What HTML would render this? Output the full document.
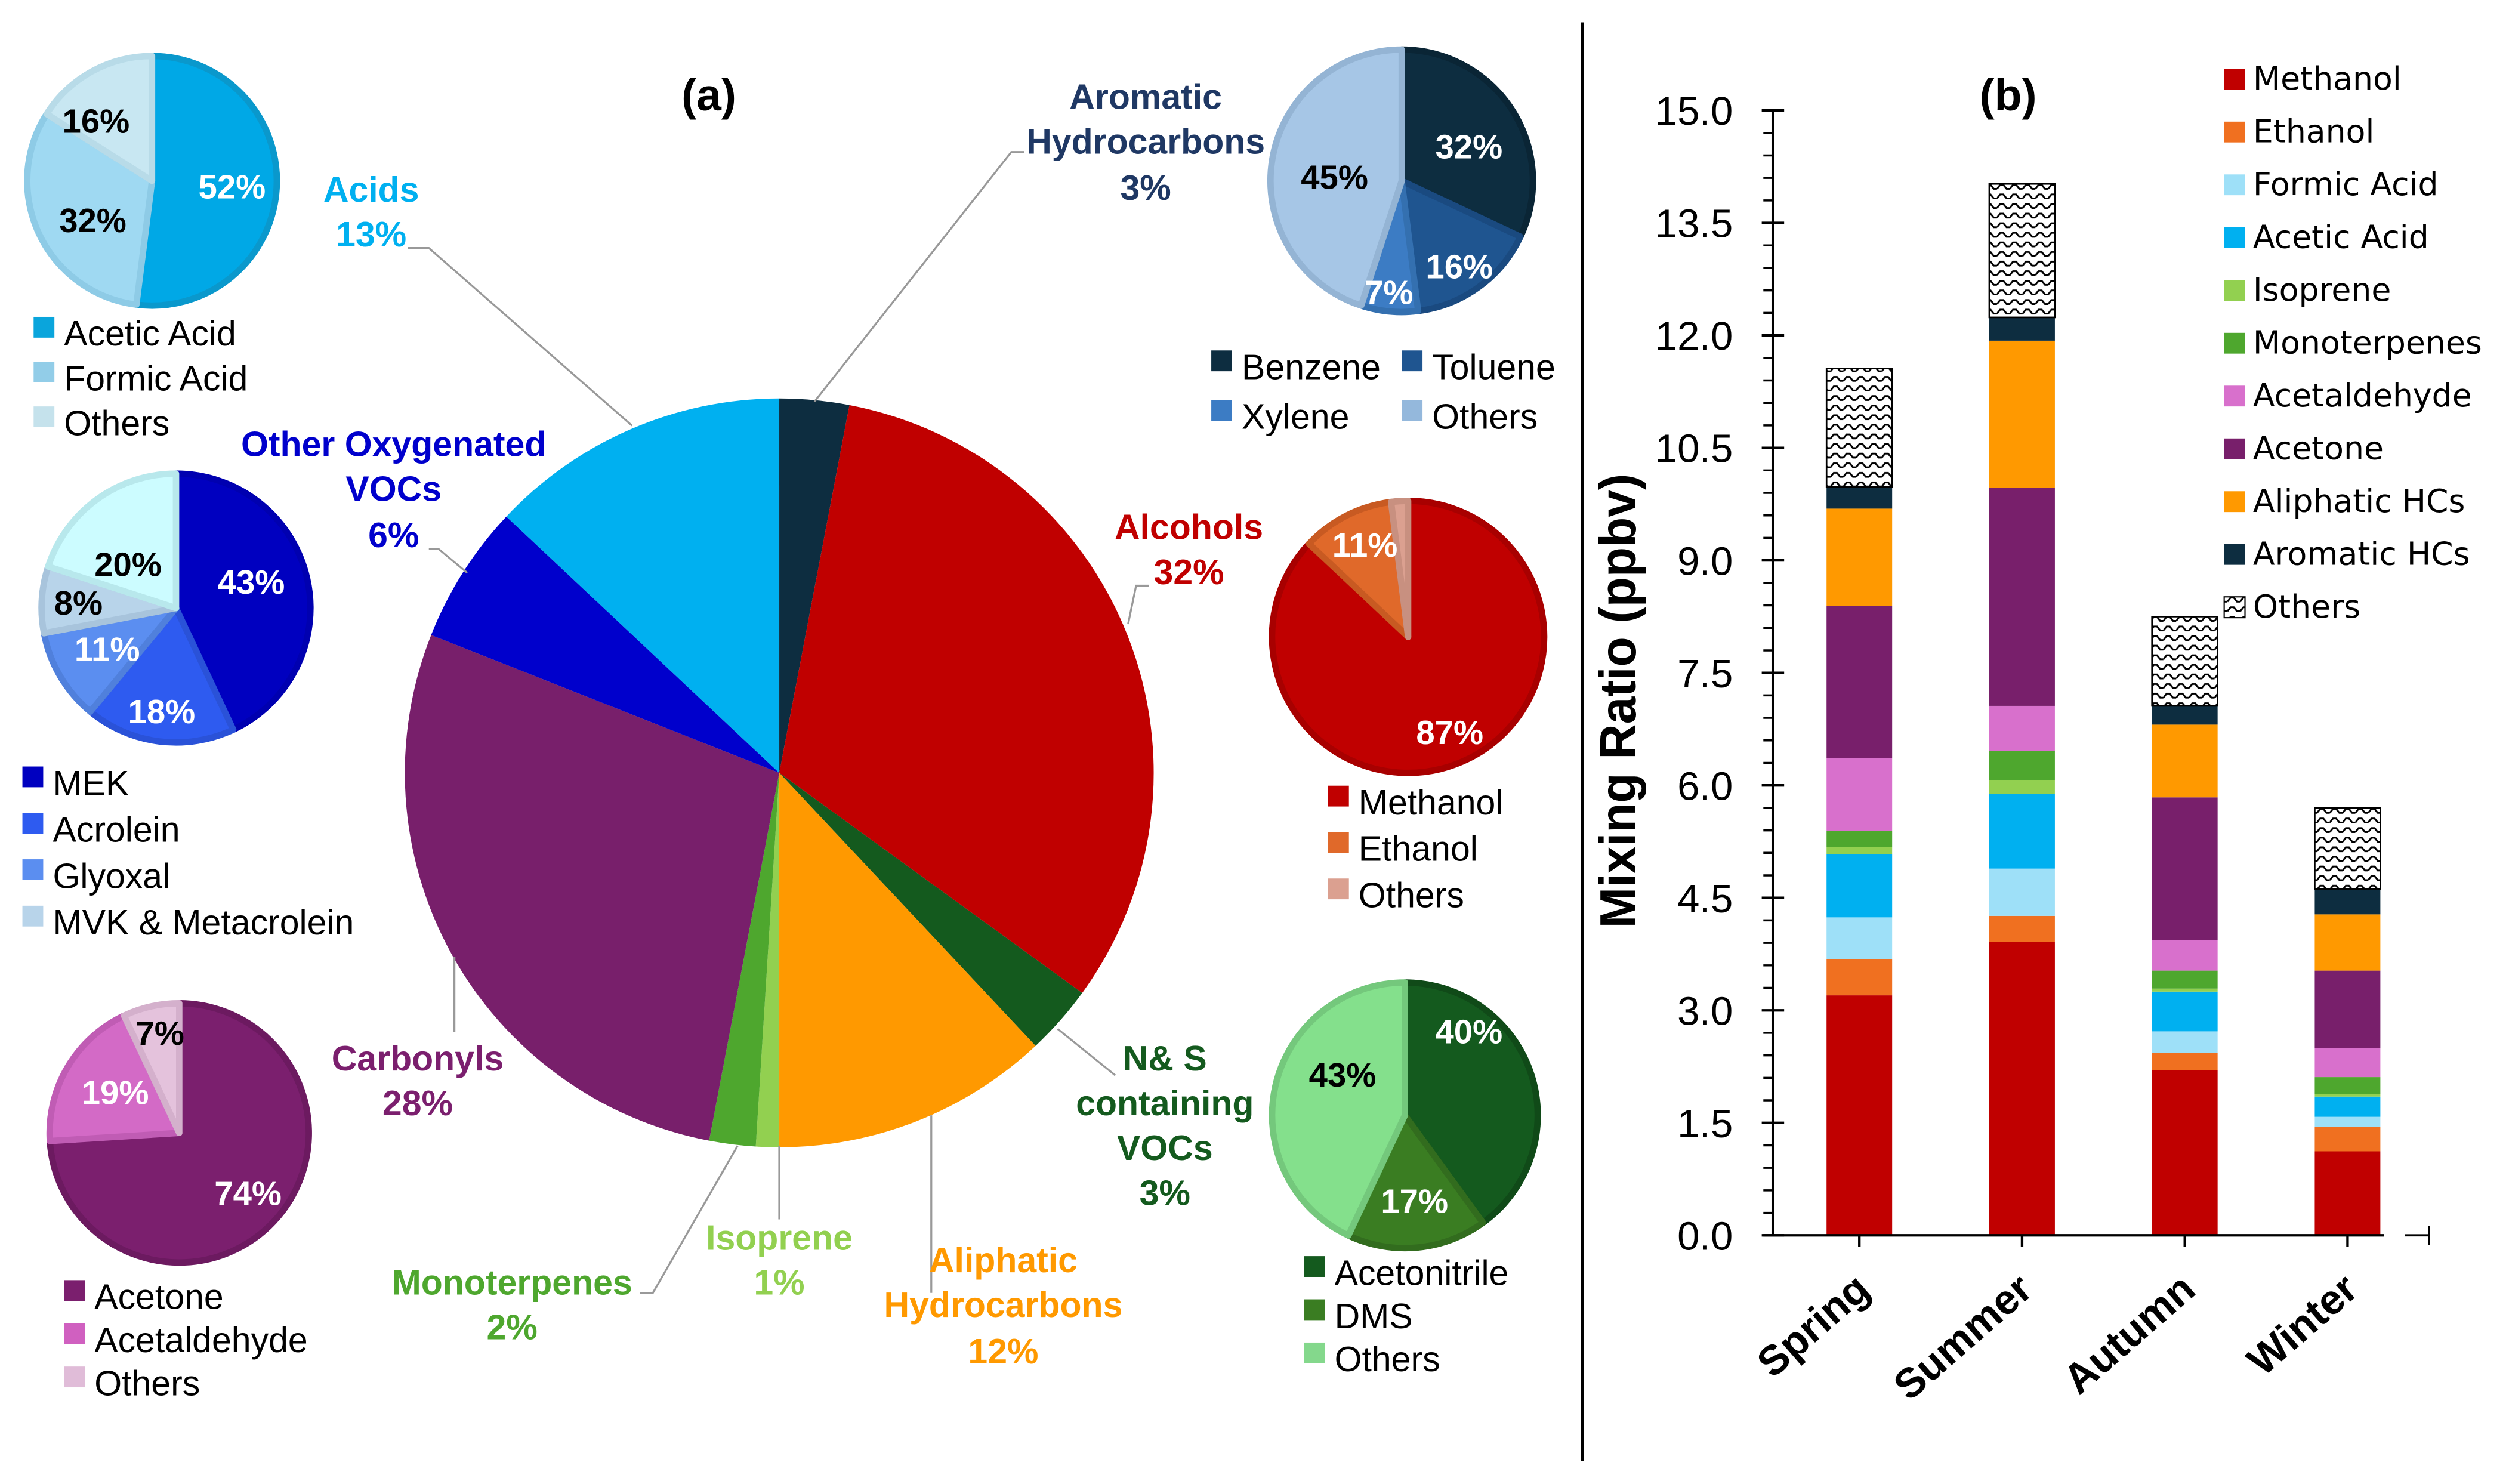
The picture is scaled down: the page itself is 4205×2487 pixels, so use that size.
<!DOCTYPE html>
<html><head><meta charset="utf-8"><style>
html,body{margin:0;padding:0;background:#fff;}
svg{display:block;}
text{font-family:"Liberation Sans",sans-serif;}
.pl{font-weight:bold;font-size:22px;text-anchor:middle;}
.lg{font-size:22px;}
.pct{font-weight:bold;font-size:21px;text-anchor:middle;}
.bl{font-family:"DejaVu Sans",sans-serif;font-size:20px;}
</style></head><body>
<svg id="fig" width="4205" height="2487" viewBox="0 0 1568 927.4" preserveAspectRatio="none" xmlns="http://www.w3.org/2000/svg">
<defs>
<pattern id="wave" patternUnits="userSpaceOnUse" width="8" height="6">
<path d="M0 4 L2 1.5 L4 1.5 L6 4 L8 4" fill="none" stroke="#000" stroke-width="1.1"/>
</pattern>
</defs>
<line x1="989" y1="14" x2="989" y2="913" stroke="#000" stroke-width="2"/>
<text x="443" y="69" font-size="28" font-weight="bold" text-anchor="middle">(a)</text>
<text x="1255" y="69" font-size="28" font-weight="bold" text-anchor="middle">(b)</text>
<g id="pies"></g>
<g id="labels">
<g stroke="#999" stroke-width="1.2" fill="none">
<polyline points="509,251 632,95 640,95"/>
<polyline points="255,155 268,155 395,266"/>
<polyline points="705,390 710,366 718,366"/>
<polyline points="268,343 274,343 292,358"/>
<polyline points="284,645 284,598"/>
<polyline points="661,643 697,672"/>
<polyline points="582,697 582,808"/>
<polyline points="487,716 487,762"/>
<polyline points="461,716 408,808 400,808"/>
</g>
<text class="pl" fill="#1f3864"><tspan x="716" y="68">Aromatic</tspan><tspan x="716" y="96">Hydrocarbons</tspan><tspan x="716" y="125">3%</tspan></text>
<text class="pl" fill="#00b0f0"><tspan x="232" y="126">Acids</tspan><tspan x="232" y="154">13%</tspan></text>
<text class="pl" fill="#c00000"><tspan x="743" y="337">Alcohols</tspan><tspan x="743" y="365">32%</tspan></text>
<text class="pl" fill="#0000cc"><tspan x="246" y="285">Other Oxygenated</tspan><tspan x="246" y="313">VOCs</tspan><tspan x="246" y="342">6%</tspan></text>
<text class="pl" fill="#7b1f6e"><tspan x="261" y="669">Carbonyls</tspan><tspan x="261" y="697">28%</tspan></text>
<text class="pl" fill="#145a1e"><tspan x="728" y="669">N&amp; S</tspan><tspan x="728" y="697">containing</tspan><tspan x="728" y="725">VOCs</tspan><tspan x="728" y="753">3%</tspan></text>
<text class="pl" fill="#ff9900"><tspan x="627" y="795">Aliphatic</tspan><tspan x="627" y="823">Hydrocarbons</tspan><tspan x="627" y="852">12%</tspan></text>
<text class="pl" fill="#92d050"><tspan x="487" y="781">Isoprene</tspan><tspan x="487" y="809">1%</tspan></text>
<text class="pl" fill="#4ea72e"><tspan x="320" y="809">Monoterpenes</tspan><tspan x="320" y="837">2%</tspan></text>
</g>
<g id="bars"></g>
</svg>
<script>
// ---- Main pie data ----
const mainNames = ["Aromatic","Alcohols","N&S VOCs","Aliphatic","Isoprene","Monoterpenes","Carbonyls","Other Oxygenated","Acids"];
const mainValues = [3,32,3,12,1,2,28,6,13];
const mainColors = ["#0d2d40","#c00000","#145a1e","#ff9900","#92d050","#4ea72e","#781f6b","#0000cc","#00b0f0"];
// ---- Sub pies data ----
const acidNames = ["Acetic Acid","Formic Acid","Others"];
const acidValues = [52,32,16];
const oxyNames = ["MEK","Acrolein","Glyoxal","MVK & Metacrolein","Rest"];
const oxyValues = [43,18,11,8,20];
const carbNames = ["Acetone","Acetaldehyde","Others"];
const carbValues = [74,19,7];
const aromNames = ["Benzene","Toluene","Xylene","Others"];
const aromValues = [32,16,7,45];
const alcNames = ["Methanol","Ethanol","Others"];
const alcValues = [87,11,2];
const nsNames = ["Acetonitrile","DMS","Others"];
const nsValues = [40,17,43];
// ---- Bar chart data ----
const seasons = ["Spring","Summer","Autumn","Winter"];
const seriesNames = ["Methanol","Ethanol","Formic Acid","Acetic Acid","Isoprene","Monoterpenes","Acetaldehyde","Acetone","Aliphatic HCs","Aromatic HCs","Others"];
const methanol = [3.20,3.91,2.20,1.12];
const ethanol = [0.48,0.35,0.23,0.33];
const formicAcid = [0.56,0.63,0.29,0.13];
const aceticAcid = [0.84,1.00,0.53,0.27];
const isoprene = [0.10,0.18,0.04,0.03];
const monoterpenes = [0.21,0.39,0.24,0.23];
const acetaldehyde = [0.97,0.60,0.41,0.39];
const acetone = [2.03,2.91,1.90,1.03];
const aliphatic = [1.30,1.96,0.97,0.75];
const aromatic = [0.29,0.31,0.25,0.34];
const others = [1.58,1.78,1.19,1.08];
const yTicks = ["0.0","1.5","3.0","4.5","6.0","7.5","9.0","10.5","12.0","13.5","15.0"];

const NS = "http://www.w3.org/2000/svg";
function mk(tag, attrs, parent){const e=document.createElementNS(NS,tag);for(const k in attrs)e.setAttribute(k,attrs[k]);parent.appendChild(e);return e;}
function pt(cx,cy,r,f){const a=f*2*Math.PI;return [cx+r*Math.sin(a),cy-r*Math.cos(a)];}
function drawPie(g,cx,cy,r,vals,cols,stroke,sw,label){
  const tot=vals.reduce((a,b)=>a+b,0);let acc=0;
  vals.forEach((v,i)=>{
    const f0=acc/tot,f1=(acc+v)/tot;acc+=v;
    const p0=pt(cx,cy,r,f0),p1=pt(cx,cy,r,f1);
    const large=(f1-f0)>0.5?1:0;
    const p=mk("path",{d:`M${cx},${cy} L${p0[0]},${p0[1]} A${r},${r} 0 ${large} 1 ${p1[0]},${p1[1]} Z`,fill:cols[i],stroke:stroke?stroke[i]:"none","stroke-width":sw,"stroke-linejoin":"round"},g);
    
    
  });
}
function pctText(g,x,y,t,c){const e=mk("text",{x:x,y:y,class:"pct",fill:c},g);e.textContent=t;
  
  }
function legend(g,x,y,dy,names,cols,cls,sq){
  names.forEach((n,i)=>{
    const r=mk("rect",{x:x,y:y+i*dy-sq+2,width:sq,height:sq,fill:cols[i]},g);
    
    
    const t=mk("text",{x:x+sq+6,y:y+i*dy+7,class:cls},g);t.textContent=n;
    
    
  });
}
const pies=document.getElementById("pies");
drawPie(pies,487,483,234,mainValues,mainColors,null,0,"main-pie");

const acidCols=["#00a8e6","#9fd9f2","#c8e7f2"];
drawPie(pies,95,113,78,acidValues,acidCols,["#0a98cc","#8ecbe6","#b8dbe8"],4,"acids-pie");
pctText(pies,145,124,"52%","#fff");pctText(pies,58,145,"32%","#000");pctText(pies,60,83,"16%","#000");
legend(pies,21,209,28,acidNames,["#0aa5dc","#92cde8","#c5e2ec"],"lg",13);

const oxyCols=["#0000c0","#2e5bf0","#5b8ef0","#b8d4ea","#ccfcff"];
drawPie(pies,110,380,84,oxyValues,oxyCols,["#0000b0","#2a52d8","#5080dc","#a8c4dc","#b8e8ec"],4,"oxy-pie");
pctText(pies,157,371,"43%","#fff");pctText(pies,101,452,"18%","#fff");pctText(pies,67,413,"11%","#fff");
pctText(pies,49,384,"8%","#000");pctText(pies,80,360,"20%","#000");
legend(pies,14,490,29,oxyNames.slice(0,4),["#0000c0","#2e5bf0","#5b8ef0","#b8d4ea"],"lg",13);

const carbCols=["#7b1f6e","#d36ac6","#e4c2dc"];
drawPie(pies,112,708,81,carbValues,carbCols,["#6c1a60","#c05cb4","#d4b0cc"],4,"carbonyl-pie");
pctText(pies,155,753,"74%","#fff");pctText(pies,72,690,"19%","#fff");pctText(pies,100,653,"7%","#000");
legend(pies,40,811,27,carbNames,["#7b1f6e","#d060c0","#e0bcd8"],"lg",13);

const aromCols=["#0d2d40","#1f5590","#3c7cc4","#a6c6e6"];
drawPie(pies,876,113,82,aromValues,aromCols,["#0a2535","#1a4a80","#3470b0","#94b4d4"],4,"aromatic-pie");
pctText(pies,918,99,"32%","#fff");pctText(pies,912,174,"16%","#fff");pctText(pies,868,190,"7%","#fff");pctText(pies,834,118,"45%","#000");
legend(pies,757,230,0,[aromNames[0]],[aromCols[0]],"lg",13);
legend(pies,876,230,0,[aromNames[1]],[aromCols[1]],"lg",13);
legend(pies,757,261,0,[aromNames[2]],[aromCols[2]],"lg",13);
legend(pies,876,261,0,[aromNames[3]],["#94b8dc"],"lg",13);

const alcCols=["#c00000","#e0692a","#dba090"];
drawPie(pies,880,398,85,alcValues,alcCols,["#a80000","#c85a22","#c89080"],4,"alcohol-pie");
pctText(pies,906,465,"87%","#fff");pctText(pies,853,348,"11%","#fff");
legend(pies,830,502,29,alcNames,["#c00000","#e0692a","#dba090"],"lg",13);

const nsCols=["#145a1e","#3a7d22","#84e08c"];
drawPie(pies,878,697,83,nsValues,nsCols,["#104a18","#326c1e","#74c87c"],4,"ns-pie");
pctText(pies,918,652,"40%","#fff");pctText(pies,884,758,"17%","#fff");pctText(pies,839,679,"43%","#000");
legend(pies,815,796,27,nsNames,["#145a1e","#3a7d22","#84d88c"],"lg",13);

// ---- Bar chart ----
const bars=document.getElementById("bars");
const x0=1108,yBase=772,yTop=69,yMax=15;
function Y(v){return yBase-(v/yMax)*(yBase-yTop);}
const cx0=1162,cStep=101.7,bw=41;
function X(i){return cx0+i*cStep;}
const seriesData=[methanol,ethanol,formicAcid,aceticAcid,isoprene,monoterpenes,acetaldehyde,acetone,aliphatic,aromatic,others];
const seriesCols=["#c00000","#f07020","#9ee0f8","#00b0f0","#92d050","#4ea72e","#d870cc","#781f6b","#ff9900","#0d2d40","url(#wave)"];
seasons.forEach((s,i)=>{
  let acc=0;
  seriesData.forEach((arr,k)=>{
    const v=arr[i];
    const r=mk("rect",{x:X(i)-bw/2,y:Y(acc+v),width:bw,height:Y(acc)-Y(acc+v),fill:seriesCols[k]},bars);
    if(k===10){r.setAttribute("stroke","#000");r.setAttribute("stroke-width","1");}
    
    
    acc+=v;
  });
  const lx=X(i)+8, ly=808;
  const t=mk("text",{x:lx,y:ly,"font-size":26,"font-weight":"bold","font-family":"DejaVu Sans, sans-serif","text-anchor":"end",transform:`rotate(-41 ${lx} ${ly})`},bars);
  t.textContent=s;
  
  
  mk("line",{x1:X(i),y1:yBase,x2:X(i),y2:yBase+7,stroke:"#000","stroke-width":1.6},bars);
});
const ax=mk("line",{x1:x0,y1:yTop,x2:x0,y2:yBase,stroke:"#000","stroke-width":1.8},bars);


const xa=mk("line",{x1:x0-6,y1:yBase,x2:1490,y2:yBase,stroke:"#000","stroke-width":1.6},bars);


mk("line",{x1:1503,y1:yBase,x2:1518,y2:yBase,stroke:"#000","stroke-width":1.4},bars);
mk("line",{x1:1518,y1:yBase-6,x2:1518,y2:yBase+6,stroke:"#000","stroke-width":1.4},bars);
for(let v=0;v<=15.001;v+=0.3){mk("line",{x1:x0-6,y1:Y(v),x2:x0,y2:Y(v),stroke:"#000","stroke-width":1.3},bars);}
yTicks.forEach(l=>{
  const v=parseFloat(l);
  mk("line",{x1:x0-7,y1:Y(v),x2:x0+7,y2:Y(v),stroke:"#000","stroke-width":1.6},bars);
  const t=mk("text",{x:1083,y:Y(v)+9,"font-size":25,"font-family":"DejaVu Sans, sans-serif","text-anchor":"end"},bars);
  t.textContent=l;
  
  
});
const yt=mk("text",{x:0,y:0,"font-size":32,"font-weight":"bold","text-anchor":"middle",textLength:284,lengthAdjust:"spacingAndGlyphs",transform:"translate(1022,438) rotate(-90)"},bars);
yt.textContent="Mixing Ratio (ppbv)";


seriesNames.forEach((n,k)=>{
  const y=49+k*33;
  const r=mk("rect",{x:1390,y:y-6,width:13,height:13,fill:seriesCols[k]},bars);
  if(k===10){r.setAttribute("stroke","#000");r.setAttribute("stroke-width","0.8");}
  
  
  const t=mk("text",{x:1408,y:y+7,class:"bl"},bars);
  t.textContent=n;
  
  
});
</script>
</body></html>
